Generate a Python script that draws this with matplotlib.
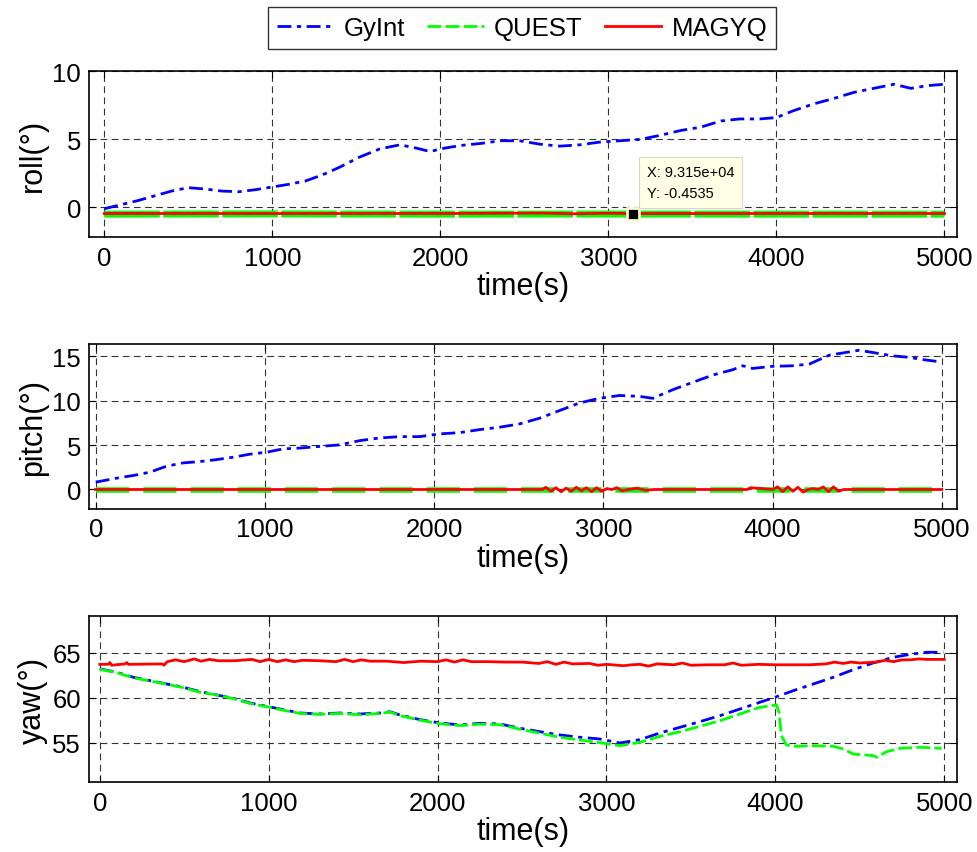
import matplotlib
matplotlib.use("Agg")
import matplotlib.pyplot as plt
from matplotlib.lines import Line2D

plt.rcParams['font.family'] = ['Liberation Sans', 'DejaVu Sans']

# ---- roll ----
roll_t_gy = [0, 100, 200, 300, 400, 500, 600, 700, 800, 900, 1000, 1100, 1200, 1300,
             1400, 1520, 1640, 1760, 1860, 1940, 2000, 2120, 2240, 2360, 2470, 2590,
             2710, 2830, 2950, 3070, 3190, 3310, 3430, 3550, 3670, 3780, 3900, 4000,
             4100, 4220, 4340, 4460, 4580, 4700, 4800, 4900, 5000]
roll_gy = [-0.1, 0.2, 0.5, 0.85, 1.2, 1.45, 1.35, 1.2, 1.15, 1.3, 1.5, 1.7, 1.95, 2.4,
           2.95, 3.7, 4.3, 4.6, 4.35, 4.1, 4.3, 4.55, 4.7, 4.9, 4.9, 4.65,
           4.5, 4.6, 4.8, 4.9, 5.0, 5.3, 5.65, 5.9, 6.35, 6.5, 6.5, 6.6,
           7.1, 7.6, 8.0, 8.45, 8.75, 9.05, 8.75, 8.95, 9.05]
roll_t_q = [0, 1000, 2000, 3000, 4000, 5000]
roll_q = [-0.5, -0.48, -0.5, -0.49, -0.5, -0.5]
roll_t_m = [0, 1000, 2000, 2600, 2800, 3000, 3147, 4000, 5000]
roll_m = [-0.45, -0.45, -0.45, -0.42, -0.47, -0.43, -0.4535, -0.45, -0.45]

# ---- pitch ----
pitch_t_gy = [0, 124, 222, 320, 419, 517, 616, 714, 812, 911, 1009, 1107, 1206, 1324,
              1442, 1560, 1678, 1796, 1914, 2032, 2150, 2268, 2386, 2504, 2622, 2740,
              2858, 2976, 3095, 3213, 3292, 3410, 3528, 3646, 3764, 3823, 3882, 3994,
              4118, 4217, 4335, 4433, 4512, 4591, 4709, 4807, 4906, 4988]
pitch_gy = [0.83, 1.28, 1.58, 1.95, 2.63, 3.0, 3.15, 3.37, 3.64, 3.98, 4.2, 4.58, 4.67, 4.86,
            5.03, 5.51, 5.81, 5.96, 5.96, 6.27, 6.41, 6.75, 7.02, 7.39, 8.03, 8.89,
            9.75, 10.28, 10.6, 10.5, 10.28, 11.25, 12.08, 12.9, 13.5, 13.95, 13.65, 13.88,
            13.95, 14.14, 15.15, 15.45, 15.7, 15.45, 15.07, 14.9, 14.6, 14.4]
pitch_t_q = [0, 5000]
pitch_q = [-0.05, -0.05]
pitch_t_m = [0, 2640, 2660, 2690, 2720, 2750, 2780, 2810, 2840, 2870, 2900, 2930, 2960,
             2990, 3020, 3050, 3080, 3110, 3150, 3200, 3250, 3300, 3850, 3870, 4000,
             4030, 4060, 4090, 4120, 4150, 4180, 4210, 4240, 4270, 4300, 4330, 4360,
             4390, 4420, 5000]
pitch_m = [0.0, 0.0, 0.25, -0.2, 0.2, -0.25, 0.15, -0.2, 0.25, -0.15, 0.2, -0.25, 0.2,
           -0.2, 0.1, 0.0, 0.2, -0.15, 0.0, 0.15, -0.1, 0.0, 0.0, 0.2, 0.0,
           0.3, -0.25, 0.3, -0.2, 0.25, -0.3, 0.0, 0.1, 0.0, 0.3, -0.25, 0.3,
           -0.2, 0.0, 0.0]

# ---- yaw ----
yaw_t_gy = [0, 100, 199, 298, 397, 495, 594, 693, 791, 890, 989, 1087, 1186, 1304, 1423,
            1541, 1659, 1719, 1778, 1896, 2014, 2133, 2251, 2369, 2488, 2606, 2724, 2843,
            2961, 3080, 3199, 3317, 3436, 3554, 3672, 3791, 3909, 3998, 4107, 4225, 4343,
            4462, 4580, 4699, 4817, 4896, 4995]
yaw_gy = [63.2, 62.82, 62.26, 61.89, 61.52, 61.15, 60.67, 60.3, 59.93, 59.41, 59.04, 58.67,
          58.3, 58.19, 58.3, 58.19, 58.3, 58.44, 58.07, 57.56, 57.19, 56.97, 57.15, 57.08,
          56.6, 56.22, 55.86, 55.6, 55.41, 54.97, 55.34, 56.08, 56.71, 57.34, 58.0, 58.74,
          59.49, 60.04, 60.78, 61.52, 62.26, 63.11, 63.86, 64.49, 64.86, 65.04, 65.04]
yaw_t_q = [0, 100, 199, 298, 397, 495, 594, 693, 791, 890, 989, 1087, 1186, 1304, 1423,
           1541, 1659, 1719, 1778, 1896, 2014, 2133, 2251, 2369, 2488, 2606, 2724, 2843,
           2961, 3080, 3199, 3317, 3436, 3554, 3672, 3791, 3909, 4007, 4022, 4036, 4066,
           4125, 4225, 4343, 4403, 4462, 4580, 4600, 4659, 4738, 4856, 4985]
yaw_q = [63.15, 62.78, 62.2, 61.85, 61.5, 61.1, 60.6, 60.3, 59.9, 59.35, 59.0, 58.6,
         58.25, 58.15, 58.25, 58.1, 58.25, 58.4, 58.0, 57.5, 57.1, 56.9, 57.05, 57.0,
         56.5, 56.05, 55.6, 55.3, 55.0, 54.67, 55.04, 55.71, 56.22, 56.82, 57.44, 58.19,
         58.93, 59.19, 58.37, 55.78, 54.74, 54.6, 54.67, 54.6, 54.3, 53.74, 53.56, 53.38,
         54.0, 54.37, 54.49, 54.37]
yaw_t_m = [0, 50, 60, 70, 150, 160, 170, 370, 380, 400, 450, 500, 560, 600, 650, 700, 800,
           900, 950, 1000, 1050, 1100, 1150, 1200, 1300, 1400, 1450, 1500, 1550, 1600,
           1700, 1800, 1900, 2000, 2050, 2100, 2150, 2200, 2300, 2400, 2500, 2600, 2650,
           2700, 2750, 2800, 2900, 2950, 3000, 3100, 3150, 3200, 3250, 3300, 3400, 3450,
           3500, 3600, 3700, 3750, 3800, 3900, 4000, 4200, 4300, 4350, 4400, 4450, 4500,
           4600, 4650, 4700, 4750, 4800, 4850, 4900, 5000]
yaw_m = [63.7, 63.7, 63.9, 63.6, 63.75, 63.9, 63.7, 63.75, 63.6, 64.0, 64.2, 64.0, 64.3,
         64.05, 64.25, 64.1, 64.1, 64.25, 64.0, 64.25, 64.0, 64.2, 64.0, 64.15, 64.1, 64.0,
         64.25, 64.0, 64.2, 64.05, 64.05, 63.9, 64.05, 64.0, 64.2, 63.95, 64.2, 64.0, 64.0,
         63.95, 63.95, 63.8, 64.0, 63.7, 63.95, 63.75, 63.8, 63.6, 63.7, 63.55, 63.65, 63.7,
         63.5, 63.75, 63.65, 63.85, 63.6, 63.65, 63.65, 63.85, 63.6, 63.7, 63.65, 63.65,
         63.75, 63.95, 63.8, 63.95, 63.85, 63.95, 64.15, 64.0, 64.2, 64.2, 64.3, 64.25, 64.25]

xticks = [0, 1000, 2000, 3000, 4000, 5000]

BLUE, GREEN, RED = "#0000ff", "#00ff00", "#ff0000"
TICK_FS, LABEL_FS = 18.5, 22

fig = plt.figure(figsize=(9.78, 8.53), dpi=100)
ax1 = fig.add_axes([0.0913, 0.7206, 0.8876, 0.1946])
ax2 = fig.add_axes([0.0913, 0.4021, 0.8876, 0.1934])
ax3 = fig.add_axes([0.0913, 0.0817, 0.8876, 0.1953])

ax1.plot(roll_t_gy, roll_gy, color=BLUE, lw=2, ls=(0, (5, 2, 1.5, 2)))
ax1.plot(roll_t_q, roll_q, color=GREEN, lw=5, ls=(0, (8, 0.5)))
ax1.plot(roll_t_m, roll_m, color=RED, lw=2)
# data tip
ax1.plot([3147], [-0.4535], marker="s", ms=8, color="black", mec="#fffbd0", mew=2, zorder=5)
ax1.annotate("X: 9.315e+04\nY: -0.4535", xy=(3147, -0.4535), xytext=(10, 10),
             textcoords="offset points", ha="left", va="bottom", fontsize=10.5,
             linespacing=1.6, zorder=6,
             bbox=dict(boxstyle="square,pad=0.55", fc="#ffffe6", ec="#d8d8c8", lw=0.8))

ax2.plot(pitch_t_gy, pitch_gy, color=BLUE, lw=2, ls=(0, (5, 2, 1.5, 2)))
ax2.plot(pitch_t_q, pitch_q, color=GREEN, lw=4, ls=(0, (6, 2.5)))
ax2.plot(pitch_t_m, pitch_m, color=RED, lw=2)

ax3.plot(yaw_t_gy, yaw_gy, color=BLUE, lw=2, ls=(0, (5, 2, 1.5, 2)))
ax3.plot(yaw_t_q, yaw_q, color=GREEN, lw=2, ls=(0, (5, 1.5)))
ax3.plot(yaw_t_m, yaw_m, color=RED, lw=2)

ax1.set_xlim(-89, 5077)
ax1.set_ylim(-2.2, 10)
ax1.set_yticks([0, 5, 10])
ax1.set_ylabel("roll(°)", fontsize=LABEL_FS)

ax2.set_xlim(-38, 5092)
ax2.set_ylim(-2.2, 16.4)
ax2.set_yticks([0, 5, 10, 15])
ax2.set_ylabel("pitch(°)", fontsize=LABEL_FS)

ax3.set_xlim(-62, 5078)
ax3.set_ylim(50.6, 69.1)
ax3.set_yticks([55, 60, 65])
ax3.set_ylabel("yaw(°)", fontsize=LABEL_FS)

for a in (ax1, ax2, ax3):
    a.set_xticks(xticks)
    a.set_xlabel("time(s)", fontsize=LABEL_FS, labelpad=1)
    a.tick_params(direction="in", top=True, right=True, length=5, width=0.8,
                  labelsize=TICK_FS, pad=6)
    a.grid(True, color="0.2", lw=0.8, ls=(0, (6, 4)))
    for s in a.spines.values():
        s.set_linewidth(1.2)
    a.yaxis.set_label_coords(-0.048, 0.5)

handles = [Line2D([], [], color=BLUE, lw=2, ls=(0, (5, 2, 1.5, 2))),
           Line2D([], [], color=GREEN, lw=2, ls=(0, (5, 1.5))),
           Line2D([], [], color=RED, lw=2)]
fig.legend(handles, ["GyInt", "QUEST", "MAGYQ"], loc="center", ncol=3,
           bbox_to_anchor=(0.534, 0.966), fontsize=TICK_FS, frameon=True,
           fancybox=False, edgecolor="black", handlelength=2.2, columnspacing=0.85,
           handletextpad=0.4, borderpad=0.35).get_frame().set_linewidth(1.0)

fig.savefig("out.png", dpi=100)
